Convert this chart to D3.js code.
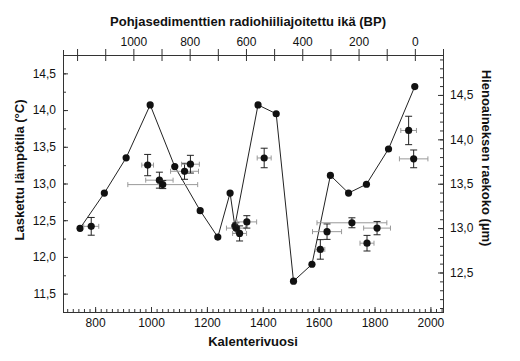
<!DOCTYPE html>
<html>
<head>
<meta charset="utf-8">
<script src="https://cdn.jsdelivr.net/npm/d3@7"></script>
<style>
  body { margin: 0; background: #fff; }
  svg { font-family: "Liberation Sans", Arial, Helvetica, sans-serif; }
  .axis path, .axis line { stroke: #333; }
  .axis text { font-size: 12px; fill: #111; }
  .title { font-size: 13px; font-weight: bold; fill: #111; }
</style>
</head>
<body>
<svg></svg>
<script>
// calculated temperature series (left axis)
var tempYears = [746, 833, 911, 997, 1085, 1176, 1239, 1283, 1300, 1383, 1448, 1510, 1576, 1642, 1707, 1771, 1850, 1944]
var temps = [12.39, 12.87, 13.35, 14.07, 13.23, 12.63, 12.27, 12.87, 12.42, 14.07, 13.95, 11.67, 11.90, 13.11, 12.87, 12.99, 13.47, 14.32]

// grain size samples (right axis) with error bars
var grainYears = [786, 988, 1030, 1042, 1120, 1141, 1304, 1317, 1343, 1405, 1606, 1630, 1719, 1773, 1809, 1922, 1940]
var grainSizes = [13.02, 13.71, 13.54, 13.49, 13.64, 13.72, 13.00, 12.94, 13.07, 13.79, 12.76, 12.96, 13.06, 12.83, 13.00, 14.10, 13.78]
var yearErr = [27, 21, 49, 125, 50, 32, 34, 25, 35, 25, 16, 52, 125, 25, 48, 28, 51]
var sizeErr = [0.10, 0.12, 0.09, 0.045, 0.09, 0.10, 0.06, 0.085, 0.07, 0.11, 0.11, 0.087, 0.056, 0.088, 0.075, 0.16, 0.10]

// tick values
var yearTicks = [800, 1000, 1200, 1400, 1600, 1800, 2000]
var bpTicks = [1000, 800, 600, 400, 200, 0]
var tempTicks = [11.5, 12.0, 12.5, 13.0, 13.5, 14.0, 14.5]
var grainTicks = [12.5, 13.0, 13.5, 14.0, 14.5]

var screen = { width: 520, height: 361 }
var plot = { left: 63, right: 443, top: 55, bottom: 312 }

var svg = d3.select("svg")
    .attr("width", screen.width)
    .attr("height", screen.height)

var xScale = d3.scaleLinear().domain([685, 2045]).range([plot.left, plot.right])
var bpScale = d3.scaleLinear().domain([1250, -100]).range([plot.left, plot.right])
var yTemp = d3.scaleLinear().domain([11.25, 14.75]).range([plot.bottom, plot.top])
var yGrain = d3.scaleLinear().domain([12.055, 14.95]).range([plot.bottom, plot.top])

var comma = function (d) { return d3.format(".1f")(d).replace(".", ",") }

var makeTranslateString = function (x, y) {
    return "translate(" + x + "," + y + ")"
}

// minor ticks first, then major ticks with labels
var drawAxes = function () {
    var axes = svg.append("g")

    // bottom
    axes.append("g").attr("class", "axis")
        .attr("transform", makeTranslateString(0, plot.bottom))
        .call(d3.axisBottom(xScale).tickValues(d3.range(700, 2041, 20)).tickSize(-3).tickFormat(""))
    axes.append("g").attr("class", "axis")
        .attr("transform", makeTranslateString(0, plot.bottom))
        .call(d3.axisBottom(xScale).tickValues(yearTicks).tickSize(-5).tickPadding(6).tickFormat(d3.format("d")))

    // top (BP), ticks cross the line
    var top = axes.append("g").attr("class", "axis")
        .attr("transform", makeTranslateString(0, plot.top))
        .call(d3.axisTop(bpScale).tickValues(d3.range(1200, -101, -100)).tickSize(5).tickPadding(4)
            .tickFormat(function (d) { return bpTicks.indexOf(d) >= 0 ? d : "" }))
    top.selectAll(".tick line").attr("y2", 6).attr("y1", -6)

    // left
    axes.append("g").attr("class", "axis")
        .attr("transform", makeTranslateString(plot.left, 0))
        .call(d3.axisLeft(yTemp).tickValues(d3.range(11.25, 14.76, 0.25)).tickSize(-3).tickFormat(""))
    axes.append("g").attr("class", "axis")
        .attr("transform", makeTranslateString(plot.left, 0))
        .call(d3.axisLeft(yTemp).tickValues(tempTicks).tickSize(-5).tickPadding(7).tickFormat(comma))

    // right
    axes.append("g").attr("class", "axis")
        .attr("transform", makeTranslateString(plot.right, 0))
        .call(d3.axisRight(yGrain).tickValues(d3.range(12.1, 14.95, 0.1)).tickSize(-3).tickFormat(""))
    axes.append("g").attr("class", "axis")
        .attr("transform", makeTranslateString(plot.right, 0))
        .call(d3.axisRight(yGrain).tickValues(grainTicks).tickSize(-5).tickPadding(7).tickFormat(comma))

    axes.selectAll(".domain").attr("stroke", "#333")
}

var drawLine = function () {
    var pts = tempYears.map(function (y, i) { return { year: y, t: temps[i] } })
    var lineGenerator = d3.line()
        .x(function (d) { return xScale(d.year) })
        .y(function (d) { return yTemp(d.t) })

    svg.append("path")
        .datum(pts)
        .attr("d", lineGenerator)
        .attr("fill", "none")
        .attr("stroke", "#222")
        .attr("stroke-width", 1)

    svg.append("g").selectAll("circle")
        .data(pts).enter().append("circle")
        .attr("cx", function (d) { return xScale(d.year) })
        .attr("cy", function (d) { return yTemp(d.t) })
        .attr("r", 3.6)
        .attr("fill", "#111")
}

var drawErrorPoints = function () {
    var pts = grainYears.map(function (y, i) {
        return { year: y, g: grainSizes[i], ex: yearErr[i], ey: sizeErr[i] }
    })
    var g = svg.append("g").selectAll("g").data(pts).enter().append("g")

    // horizontal (grey)
    g.append("line")
        .attr("x1", function (d) { return xScale(d.year - d.ex) })
        .attr("x2", function (d) { return xScale(d.year + d.ex) })
        .attr("y1", function (d) { return yGrain(d.g) })
        .attr("y2", function (d) { return yGrain(d.g) })
        .attr("stroke", "#999").attr("stroke-width", 1)
    ;[-1, 1].forEach(function (s) {
        g.append("line")
            .attr("x1", function (d) { return xScale(d.year + s * d.ex) })
            .attr("x2", function (d) { return xScale(d.year + s * d.ex) })
            .attr("y1", function (d) { return yGrain(d.g) - 2.5 })
            .attr("y2", function (d) { return yGrain(d.g) + 2.5 })
            .attr("stroke", "#999").attr("stroke-width", 1)
    })

    // vertical (black)
    g.append("line")
        .attr("x1", function (d) { return xScale(d.year) })
        .attr("x2", function (d) { return xScale(d.year) })
        .attr("y1", function (d) { return yGrain(d.g - d.ey) })
        .attr("y2", function (d) { return yGrain(d.g + d.ey) })
        .attr("stroke", "#222").attr("stroke-width", 1)
    ;[-1, 1].forEach(function (s) {
        g.append("line")
            .attr("x1", function (d) { return xScale(d.year) - 3.5 })
            .attr("x2", function (d) { return xScale(d.year) + 3.5 })
            .attr("y1", function (d) { return yGrain(d.g + s * d.ey) })
            .attr("y2", function (d) { return yGrain(d.g + s * d.ey) })
            .attr("stroke", "#222").attr("stroke-width", 1)
    })

    g.append("circle")
        .attr("cx", function (d) { return xScale(d.year) })
        .attr("cy", function (d) { return yGrain(d.g) })
        .attr("r", 3.6)
        .attr("fill", "#111")
}

var drawLabels = function () {
    var labels = svg.append("g")
    labels.append("text").classed("title", true)
        .attr("text-anchor", "middle")
        .attr("x", 253).attr("y", 346)
        .text("Kalenterivuosi")
    labels.append("text").classed("title", true)
        .attr("text-anchor", "middle")
        .attr("x", 248).attr("y", 26)
        .text("Pohjasedimenttien radiohiiliajoitettu ikä (BP)")
    labels.append("text").classed("title", true)
        .attr("text-anchor", "middle")
        .attr("transform", "translate(24,170) rotate(-90)")
        .text("Laskettu lämpötila (°C)")
    labels.append("text").classed("title", true)
        .attr("text-anchor", "middle")
        .attr("transform", "translate(482,158) rotate(90)")
        .text("Hienoaineksen raekoko (µm)")
}

drawAxes()
drawLine()
drawErrorPoints()
drawLabels()
</script>
</body>
</html>
